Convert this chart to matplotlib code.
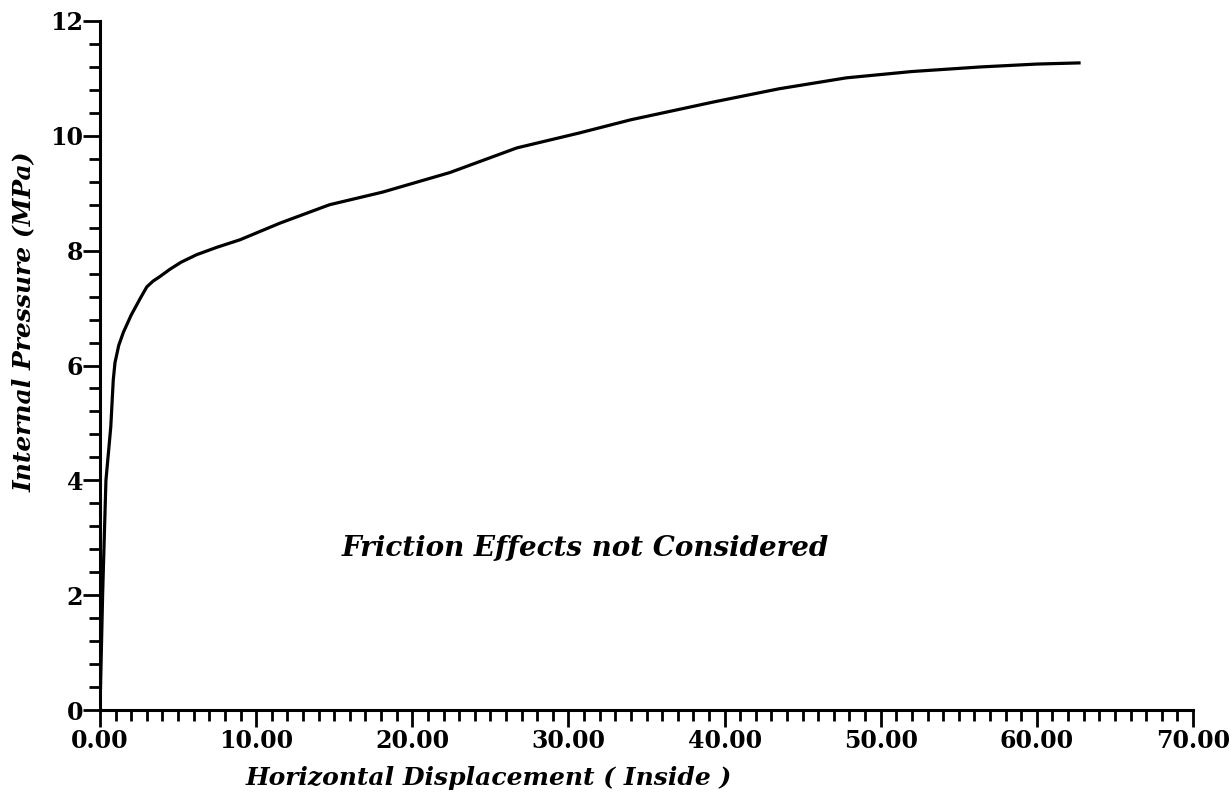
import matplotlib
matplotlib.use("Agg")
import matplotlib.pyplot as plt
from matplotlib.ticker import MultipleLocator

displacement = [0.0, 0.17, 0.38, 0.69, 0.85, 0.96, 1.2, 1.5, 2.0, 2.6, 3.0, 3.4,
                3.84, 4.5, 5.2, 6.19, 7.5, 8.97, 11.53, 14.7, 18.1, 22.4, 26.7,
                30.7, 34.0, 39.3, 43.5, 47.8, 52.0, 56.4, 60.0, 62.7]
pressure = [0.0, 2.03, 4.0, 4.93, 5.75, 6.05, 6.35, 6.58, 6.88, 7.18, 7.37, 7.47,
            7.55, 7.68, 7.80, 7.93, 8.06, 8.19, 8.48, 8.80, 9.02, 9.36, 9.79,
            10.05, 10.28, 10.59, 10.82, 11.01, 11.12, 11.2, 11.25, 11.27]

x_ticks = [0, 10, 20, 30, 40, 50, 60, 70]
x_tick_labels = ["0.00", "10.00", "20.00", "30.00", "40.00", "50.00", "60.00", "70.00"]
y_ticks = [0, 2, 4, 6, 8, 10, 12]
y_tick_labels = ["0", "2", "4", "6", "8", "10", "12"]

fig = plt.figure(figsize=(12.32, 8), dpi=100)
ax = fig.add_axes([100/1232, 90/800, 1093/1232, 689/800])

ax.plot(displacement, pressure, color="black", lw=2.3, solid_joinstyle="round")

ax.set_xlim(0, 70)
ax.set_ylim(0, 12)
ax.spines["top"].set_visible(False)
ax.spines["right"].set_visible(False)
for s in ("left", "bottom"):
    ax.spines[s].set_linewidth(2.2)

ax.set_xticks(x_ticks)
ax.set_xticklabels(x_tick_labels)
ax.set_yticks(y_ticks)
ax.set_yticklabels(y_tick_labels)
ax.xaxis.set_minor_locator(MultipleLocator(1))
ax.yaxis.set_minor_locator(MultipleLocator(0.4))
ax.tick_params(axis="both", which="major", direction="out", length=12, width=2.0,
               labelsize=17)
ax.tick_params(axis="both", which="minor", direction="out", length=8, width=2.0)
for lab in ax.get_xticklabels() + ax.get_yticklabels():
    lab.set_fontfamily("DejaVu Serif")
    lab.set_fontweight("bold")
ax.tick_params(axis="x", pad=2)
ax.tick_params(axis="y", pad=0)

ax.set_xlabel("Horizontal Displacement ( Inside )", family="DejaVu Serif",
              weight="bold", style="italic", size=18)
ax.xaxis.set_label_coords(389/1093, -56/689)
ax.set_ylabel("Internal Pressure (MPa)", family="DejaVu Serif",
              weight="bold", style="italic", size=18)
ax.yaxis.set_label_coords(-64/1093, 388/689)

ax.text(31.1, 2.82, "Friction Effects not Considered", ha="center", va="center",
        family="DejaVu Serif", weight="bold", style="italic", size=20)

fig.savefig("out.png", dpi=100)
